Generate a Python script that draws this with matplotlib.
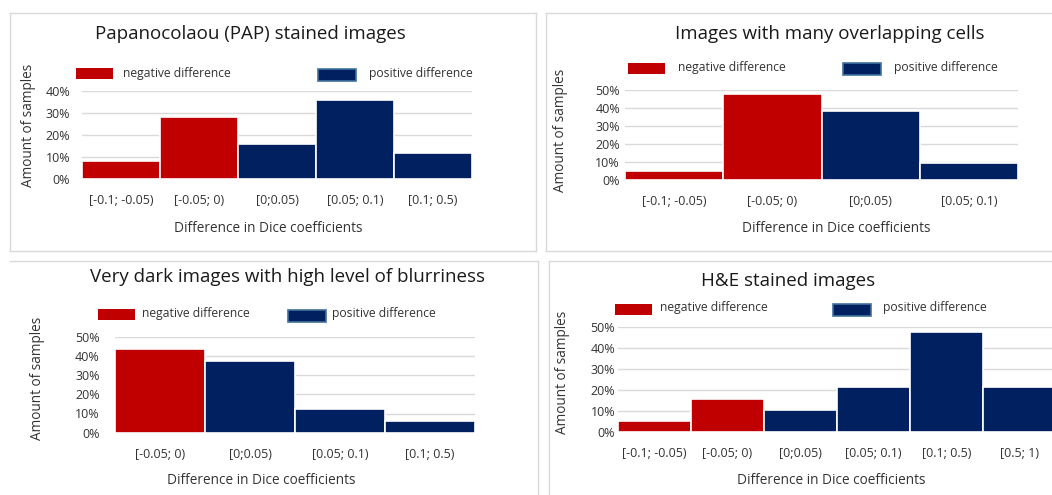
import matplotlib
matplotlib.use("Agg")
import matplotlib.pyplot as plt
from matplotlib.patches import Rectangle
from matplotlib.lines import Line2D
from matplotlib.ticker import FuncFormatter, MultipleLocator

plt.rcParams['font.family'] = ['Open Sans', 'DejaVu Sans']

W, H = 1052, 495

RED = "#C00000"
NAVY = "#002060"
LEGEND_EDGE = "#41719C"
GRID = "#D9D9D9"
BORDER = "#D9D9D9"
TEXT = "#1A1A1A"
TICK = "#333333"

TITLE_SIZE = 13.5
TICK_SIZE = 9.0
LEGEND_SIZE = 8.7
LABEL_SIZE = 9.8

# Share of samples (%) per interval of Dice-coefficient difference
pap_labels = ["[-0.1; -0.05)", "[-0.05; 0)", "[0;0.05)", "[0.05; 0.1)", "[0.1; 0.5)"]
pap_values = [8, 28, 16, 36, 12]
pap_negative = [True, True, False, False, False]

overlap_labels = ["[-0.1; -0.05)", "[-0.05; 0)", "[0;0.05)", "[0.05; 0.1)"]
overlap_values = [4.8, 47.6, 38.1, 9.5]
overlap_negative = [True, True, False, False]

dark_labels = ["[-0.05; 0)", "[0;0.05)", "[0.05; 0.1)", "[0.1; 0.5)"]
dark_values = [43.75, 37.5, 12.5, 6.25]
dark_negative = [True, False, False, False]

he_labels = ["[-0.1; -0.05)", "[-0.05; 0)", "[0;0.05)", "[0.05; 0.1)", "[0.1; 0.5)", "[0.5; 1)"]
he_values = [5.3, 15.8, 10.5, 21.1, 47.4, 21.1]
he_negative = [True, True, False, False, False, False]

titles = [
    "Papanocolaou (PAP) stained images",
    "Images with many overlapping cells",
    "Very dark images with high level of blurriness",
    "H&E stained images",
]

fig = plt.figure(figsize=(W / 100, H / 100), dpi=100)
fig.patch.set_facecolor("white")


def fx(x):
    return x / W


def fy(y):
    return 1 - y / H


def line(x0, y0, x1, y1):
    fig.add_artist(Line2D([fx(x0), fx(x1)], [fy(y0), fy(y1)], color=BORDER, lw=1.0,
                          transform=fig.transFigure))


def rect(x0, y0, x1, y1, face, edge, lw=0.0):
    fig.add_artist(Rectangle((fx(x0), fy(y1)), fx(x1) - fx(x0), fy(y0) - fy(y1),
                             facecolor=face, edgecolor=edge, linewidth=lw,
                             transform=fig.transFigure))


# panel frames
line(10, 13, 536, 13); line(10, 13, 10, 251); line(10, 251, 536, 251); line(536, 13, 536, 251)
line(546, 13, 1052, 13); line(546, 13, 546, 251); line(546, 251, 1052, 251)
line(10, 261, 538, 261); line(538, 261, 538, 495)
line(549, 261, 1052, 261); line(549, 261, 549, 495)


def panel(labels, values, negative, title, box, ymax, ypad, title_xy, leg, ylab_xy, xlab_xy):
    x0, x1, ybot, ytop = box
    ax = fig.add_axes([fx(x0), fy(ybot), fx(x1) - fx(x0), fy(ytop) - fy(ybot)])
    n = len(values)
    colors = [RED if neg else NAVY for neg in negative]
    ax.bar(range(n), values, width=1.0, color=colors, edgecolor="white", linewidth=1.2, zorder=3)
    ax.set_xlim(-0.5, n - 0.5)
    ax.set_ylim(0, ymax)
    ax.yaxis.set_major_locator(MultipleLocator(10))
    ax.yaxis.set_major_formatter(FuncFormatter(lambda v, p: f"{v:.0f}%"))
    ax.set_xticks(range(n))
    ax.set_xticklabels(labels)
    ax.grid(axis="y", color=GRID, linewidth=1.0, zorder=0)
    for s in ax.spines.values():
        s.set_visible(False)
    ax.tick_params(axis="both", length=0, labelsize=TICK_SIZE, labelcolor=TICK)
    ax.tick_params(axis="y", pad=ypad)
    ax.tick_params(axis="x", pad=11)
    ax.set_facecolor("none")

    fig.text(fx(title_xy[0]), fy(title_xy[1]), title, ha="center", va="center",
             fontsize=TITLE_SIZE, color=TEXT)
    (rx, ry), (bx, by), (tnx, tny), (tpx, tpy) = leg
    rect(rx, ry, rx + 37, ry + 11, RED, RED)
    rect(bx, by, bx + 38, by + 12, NAVY, LEGEND_EDGE, lw=1.2)
    fig.text(fx(tnx), fy(tny), "negative difference", ha="left", va="center",
             fontsize=LEGEND_SIZE, color=TICK)
    fig.text(fx(tpx), fy(tpy), "positive difference", ha="left", va="center",
             fontsize=LEGEND_SIZE, color=TICK)
    fig.text(fx(ylab_xy[0]), fy(ylab_xy[1]), "Amount of samples", rotation=90,
             ha="center", va="center", fontsize=LABEL_SIZE, color=TICK)
    fig.text(fx(xlab_xy[0]), fy(xlab_xy[1]), "Difference in Dice coefficients",
             ha="center", va="center", fontsize=LABEL_SIZE, color=TICK)
    return ax


panel(pap_labels, pap_values, pap_negative, titles[0],
      (82, 472, 179, 91), 40, 8.5, (250, 34),
      ((76, 68), (318, 69), (123, 73), (369, 74)), (28, 125), (268, 228))

panel(overlap_labels, overlap_values, overlap_negative, titles[1],
      (625, 1018, 180, 90), 50, 3.6, (830, 34),
      ((628, 63), (843, 63), (678, 67), (894, 68)), (560, 130), (836, 229))

panel(dark_labels, dark_values, dark_negative, titles[2],
      (115, 475, 432.7, 336.7), 50, 11, (288, 277),
      ((98, 309), (288, 310), (142, 313), (332, 313)), (38, 378), (261, 480))

panel(he_labels, he_values, he_negative, titles[3],
      (618, 1056, 431.7, 326.7), 50, 2, (788, 281),
      ((615, 304), (833, 304), (660, 308), (883, 308)), (562, 372), (831, 480))

fig.savefig("out.png", dpi=100, facecolor="white")
